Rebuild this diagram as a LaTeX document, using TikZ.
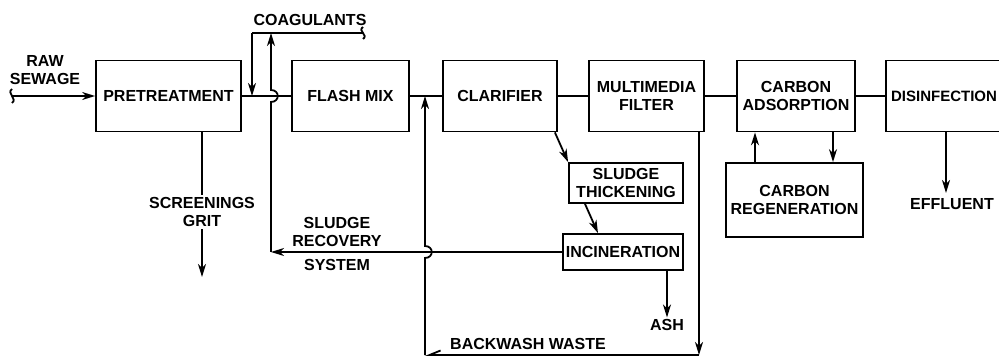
\documentclass[tikz,border=0pt]{standalone}
\usepackage{fontspec}
\setmainfont{Liberation Sans}
\usetikzlibrary{arrows.meta}
\begin{document}
\begin{tikzpicture}[x=1pt,y=-1pt,
  line width=1.8pt,
  every node/.style={font=\bfseries\fontsize{16}{18}\selectfont, align=center, inner sep=1pt},
  box/.style={draw, rectangle, line width=1.8pt},
  arr/.style={-{Stealth[length=13pt,width=8pt,inset=4pt]}},
  half/.style={-{Straight Barb[harpoon,swap,length=11pt,width=9pt]}}]
\clip (0,0) rectangle (999,358);
% main boxes
\node[box, minimum width=145pt, minimum height=71pt] (pre) at (168.5,96) {PRETREATMENT};
\node[box, minimum width=117pt, minimum height=71pt] (flash) at (350.5,96) {FLASH MIX};
\node[box, minimum width=114pt, minimum height=71pt] (clar) at (500,96) {CLARIFIER};
\node[box, minimum width=115pt, minimum height=71pt] (filt) at (646.5,96) {MULTIMEDIA\\FILTER};
\node[box, minimum width=118pt, minimum height=71pt] (cads) at (796,96) {CARBON\\ADSORPTION};
\node[box, minimum width=116pt, minimum height=71pt, font=\bfseries\fontsize{15}{18}\selectfont] (dis) at (944,96) {DISINFECTION};
% side boxes
\node[box, minimum width=114pt, minimum height=40pt] (thick) at (626,183) {SLUDGE\\THICKENING};
\node[box, minimum width=120pt, minimum height=36pt] (incin) at (623,252) {INCINERATION};
\node[box, minimum width=137pt, minimum height=74pt] (creg) at (794.5,200) {CARBON\\REGENERATION};
% labels
\node (rawlbl) at (45,70) {RAW\\SEWAGE};
\node (coaglbl) at (310,20) {COAGULANTS};
\node (srlbl) at (337,232) {SLUDGE\\RECOVERY};
\node (syslbl) at (337,265) {SYSTEM};
\node (ash) at (667,325) {ASH};
\node (bwlbl) at (528,344) {BACKWASH WASTE};
\node (effl) at (952,204) {EFFLUENT};
% coordinates
\coordinate (raw) at (12,96);
\coordinate (coagR) at (363,33);
\coordinate (coagL) at (252,33);
\coordinate (j1) at (252,96);
\coordinate (srL) at (271,252);
\coordinate (scr) at (202,277);
\coordinate (bwR) at (699,355);
\coordinate (bwL) at (425,355);
\coordinate (j2) at (425,96);
\coordinate (effend) at (946,193);
% main line
\draw[arr] (raw) -- (pre.west);
\draw (raw) ++(0,-7) .. controls ++(-6,4) and ++(6,-4) .. ++(0,14);
\draw (pre.east) -- (flash.west);
\draw (flash.east) -- (clar.west);
\draw (clar.east) -- (filt.west);
\draw (filt.east) -- (cads.west);
\draw (cads.east) -- (dis.west);
% coagulants
\draw (coagR) -- (coagL);
\draw (coagR) ++(0,-6) .. controls ++(-6,4) and ++(6,-4) .. ++(0,12);
\draw[arr] (coagL) -- (j1);
% sludge recovery
\draw[arr] (incin.west) -- (srL);
\draw[arr] (srL) -- (271,102) .. controls (280,102) and (280,90) .. (271,90) -- (271,33);
% screenings
\draw[arr] ([xshift=33.5pt]pre.south) -- (scr) node[pos=0.55, fill=white, inner sep=2pt] (scrlbl) {SCREENINGS\\GRIT};
% sludge path
\draw[arr] ([xshift=-3pt]clar.south east) -- (thick.north west);
\draw[arr] ([xshift=-41pt]thick.south) -- ([xshift=-25pt]incin.north);
\draw[arr] ([xshift=44pt]incin.south) -- (ash.north);
% backwash
\draw[arr] ([xshift=52.5pt]filt.south) -- (bwR);
\draw[half] (bwR) -- (bwL);
\draw[arr] (bwL) -- (425,258) .. controls (434,258) and (434,246) .. (425,246) -- (j2);
% carbon
\draw[arr] ([xshift=-39.5pt]creg.north) -- ([xshift=-41pt]cads.south);
\draw[arr] ([xshift=37pt]cads.south) -- ([xshift=38.5pt]creg.north);
% effluent
\draw[arr] ([xshift=2pt]dis.south) -- (effend);
\end{tikzpicture}
\end{document}
